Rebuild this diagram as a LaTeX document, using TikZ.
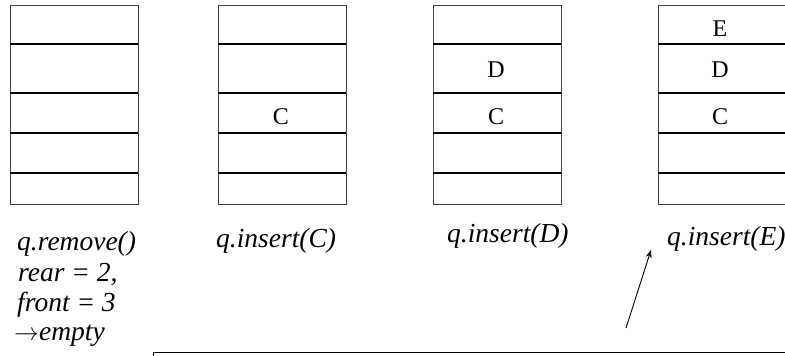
\documentclass[tikz,border=0pt]{standalone}
\usepackage{fontspec}
\setmainfont{Liberation Serif}
\usetikzlibrary{arrows.meta}

\tikzset{
  qbox/.style={draw=black!75,line width=0.8pt},
  qline/.style={line width=1.3pt},
  cell/.style={font=\fontsize{24}{28}\selectfont,inner sep=0pt},
  oplabel/.style={font=\fontsize{27.5}{32}\selectfont\itshape,inner sep=0pt,anchor=base west},
}

\begin{document}
\begin{tikzpicture}[x=1pt,y=-1pt]
  \useasboundingbox (0,0) rectangle (785,356);
  \clip (0,0) rectangle (785,356);
  \foreach \xl in {10,218,433,658} {
    \draw[qbox] (\xl,5) rectangle ++(128,199);
    \foreach \yy in {44,93,133,173}
      \draw[qline] (\xl,\yy) -- ++(128,0);
  }
  \node[cell] (qtwoC) at (281,117) {C};
  \node[cell] (qthreeD) at (496,70) {D};
  \node[cell] (qthreeC) at (496,117) {C};
  \node[cell] (qfourE) at (720,29) {E};
  \node[cell] (qfourD) at (720,70) {D};
  \node[cell] (qfourC) at (720,117) {C};
  \node[oplabel] (opremove) at (17,250) {q.remove()};
  \node[oplabel] (oprear) at (18,281) {rear = 2,};
  \node[oplabel] (opfront) at (17,311) {front = 3};
  \node[oplabel] (opempty) at (14,340) {$\rightarrow$empty};
  \node[oplabel] (opinsC) at (216,247) {q.insert(C)};
  \node[oplabel] (opinsD) at (447,242) {q.insert(D)};
  \node[oplabel] (opinsE) at (667,245) {q.insert(E)};
  \coordinate (arrtail) at (626,328);
  \coordinate (arrhead) at (651,250);
  \draw[-{Stealth[length=8pt,width=6pt]},line width=0.9pt] (arrtail) -- (arrhead);
  \draw[line width=1pt] (153,352) rectangle (800,380);
\end{tikzpicture}
\end{document}
